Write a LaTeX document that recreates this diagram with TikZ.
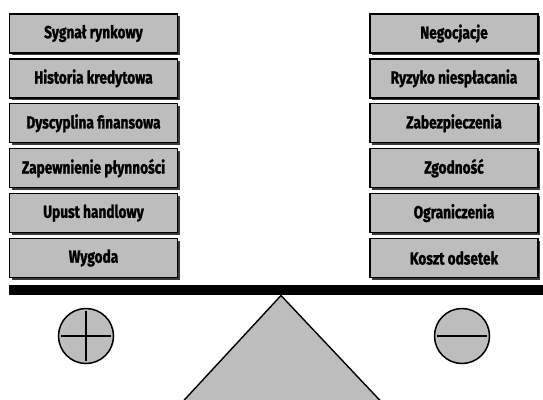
\documentclass[tikz,border=0pt]{standalone}
\usepackage{fontspec}
\setmainfont{Fira Sans}[FakeStretch=0.78, BoldFeatures={FakeBold=1.3}]
\usepackage{tikz}
\usetikzlibrary{positioning, shadows}
\definecolor{boxgray}{HTML}{BDBDBD}
\definecolor{shadegray}{HTML}{3A3A3A}

\begin{document}
\begin{tikzpicture}[
  x=1pt, y=-1pt,
  node distance=4.6pt,
  factor/.style={draw=black, fill=boxgray, line width=1.3pt, minimum width=168pt, minimum height=39pt, inner sep=0pt, font=\fontsize{17.5}{19}\selectfont\bfseries, drop shadow={shadow xshift=2.2pt, shadow yshift=-2.2pt, fill=shadegray, opacity=1}},
  sign/.style={circle, draw=black, fill=boxgray, line width=1.5pt, minimum size=55pt, inner sep=0pt},
  stroke/.style={line width=1.5pt, shorten <=3pt, shorten >=3pt}
]
\clip (0,0) rectangle (543,399);
\useasboundingbox (0,0) rectangle (543,399);

% Left pan: arguments for
\node[factor] (sygnal) at (93.5,33.5) {Sygnał rynkowy};
\node[factor, below=of sygnal] (historia) {Historia kredytowa};
\node[factor, below=of historia] (dyscyplina) {Dyscyplina finansowa};
\node[factor, below=of dyscyplina] (plynnosc) {Zapewnienie płynności};
\node[factor, below=of plynnosc] (upust) {Upust handlowy};
\node[factor, below=of upust] (wygoda) {Wygoda};

% Right pan: arguments against
\node[factor] (negocjacje) at (454,33.5) {Negocjacje};
\node[factor, below=of negocjacje] (ryzyko) {Ryzyko niespłacania};
\node[factor, below=of ryzyko] (zabezp) {Zabezpieczenia};
\node[factor, below=of zabezp] (zgodnosc) {Zgodność};
\node[factor, below=of zgodnosc] (ogranicz) {Ograniczenia};
\node[factor, below=of ogranicz] (odsetki) {Koszt odsetek};

% Beam and fulcrum
\coordinate (apex) at (281,295.5);
\fill[black] (9,285) rectangle (545,294.5);
\draw[fill=boxgray, line width=1.4pt, line join=miter] (apex) -- (175,410) -- (389,410) -- cycle;

% Plus and minus signs
\node[sign] (plus) at (86,336) {};
\draw[stroke] (plus.north) -- (plus.south);
\draw[stroke] (plus.west) -- (plus.east);
\node[sign] (minus) at (462,336) {};
\draw[stroke] (minus.west) -- (minus.east);

\end{tikzpicture}
\end{document}
